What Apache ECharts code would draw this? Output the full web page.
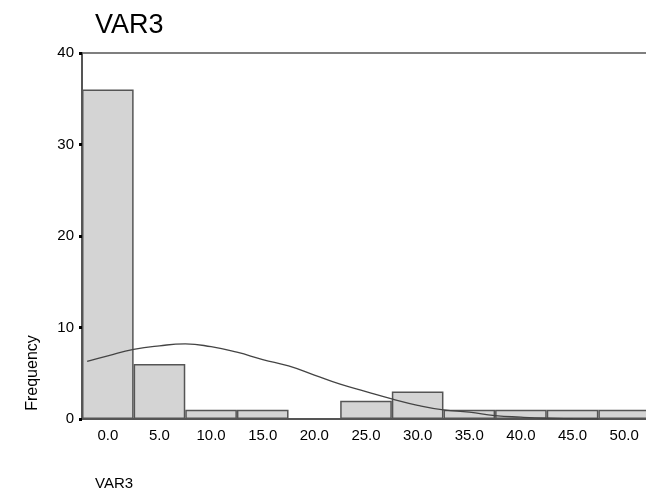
<!DOCTYPE html>
<html>
<head>
<meta charset="utf-8">
<script src="https://cdn.jsdelivr.net/npm/echarts@6/dist/echarts.min.js"></script>
<style>html,body{margin:0;padding:0;background:#fff}#c{width:646px;height:493px}</style>
</head>
<body>
<div id="c"></div>
<script>
var categories = ['0.0','5.0','10.0','15.0','20.0','25.0','30.0','35.0','40.0','45.0','50.0'];
var frequencies = [36, 6, 1, 1, 0, 2, 3, 1, 1, 1, 1];
var curveX = [-2, 0, 2.5, 5, 7.5, 10, 12.5, 15, 17.5, 20, 22.5, 25, 27.5, 30, 32.5, 35, 37.5, 40, 42.5, 45, 47.5];
var curveY = [6.3, 6.9, 7.6, 8.0, 8.2, 7.9, 7.3, 6.5, 5.8, 4.8, 3.8, 3.0, 2.2, 1.5, 1.0, 0.75, 0.38, 0.2, 0.08, 0.03, 0.0];
var yTicks = [0, 10, 20, 30, 40];

var chart = echarts.init(document.getElementById('c'), null, {renderer: 'canvas'});
var font = 'Liberation Sans, Arial, sans-serif';
chart.setOption({
  animation: false,
  backgroundColor: '#fff',
  title: [
    {text: 'VAR3', left: 90, top: 7, textStyle: {fontFamily: font, fontSize: 27, fontWeight: 'normal', color: '#000'}},
    {text: 'VAR3', left: 90, top: 471, textStyle: {fontFamily: font, fontSize: 15, fontWeight: 'normal', color: '#000'}}
  ],
  graphic: [{
    type: 'text', x: 33, y: 373, rotation: Math.PI / 2,
    style: {text: 'Frequency', font: '16px ' + font, fill: '#000', align: 'center', verticalAlign: 'middle'}
  }],
  grid: {left: 82, top: 53, height: 366, width: 568, outerBoundsMode: 'none', containLabel: false,
    show: true, borderColor: '#555', borderWidth: 1.5, backgroundColor: 'transparent'},
  xAxis: [{
    type: 'category', data: categories, boundaryGap: true,
    axisLine: {lineStyle: {color: '#555', width: 2}},
    axisTick: {alignWithLabel: true, length: 3, lineStyle: {color: '#000', width: 3}},
    axisLabel: {fontFamily: font, fontSize: 15, color: '#000', margin: 9}
  }, {
    type: 'value', min: -2.5, max: 52.5, show: false
  }],
  yAxis: {
    type: 'value', min: yTicks[0], max: yTicks[yTicks.length - 1], interval: 10,
    splitLine: {show: false},
    axisLine: {show: true, onZero: false, lineStyle: {color: '#555', width: 2}},
    axisTick: {show: true, length: 3, lineStyle: {color: '#000', width: 3}},
    axisLabel: {fontFamily: font, fontSize: 15, color: '#000', margin: 8}
  },
  series: [{
    type: 'bar', data: frequencies, barWidth: '100%', barGap: '-100%',
    itemStyle: {color: '#d4d4d4', borderColor: '#555', borderWidth: 1.5}
  }, {
    type: 'line', xAxisIndex: 1, showSymbol: false, smooth: true,
    data: curveX.map(function (x, i) { return [x, curveY[i]]; }),
    lineStyle: {color: '#444', width: 1.3}, z: 5
  }]
});
</script>
</body>
</html>
